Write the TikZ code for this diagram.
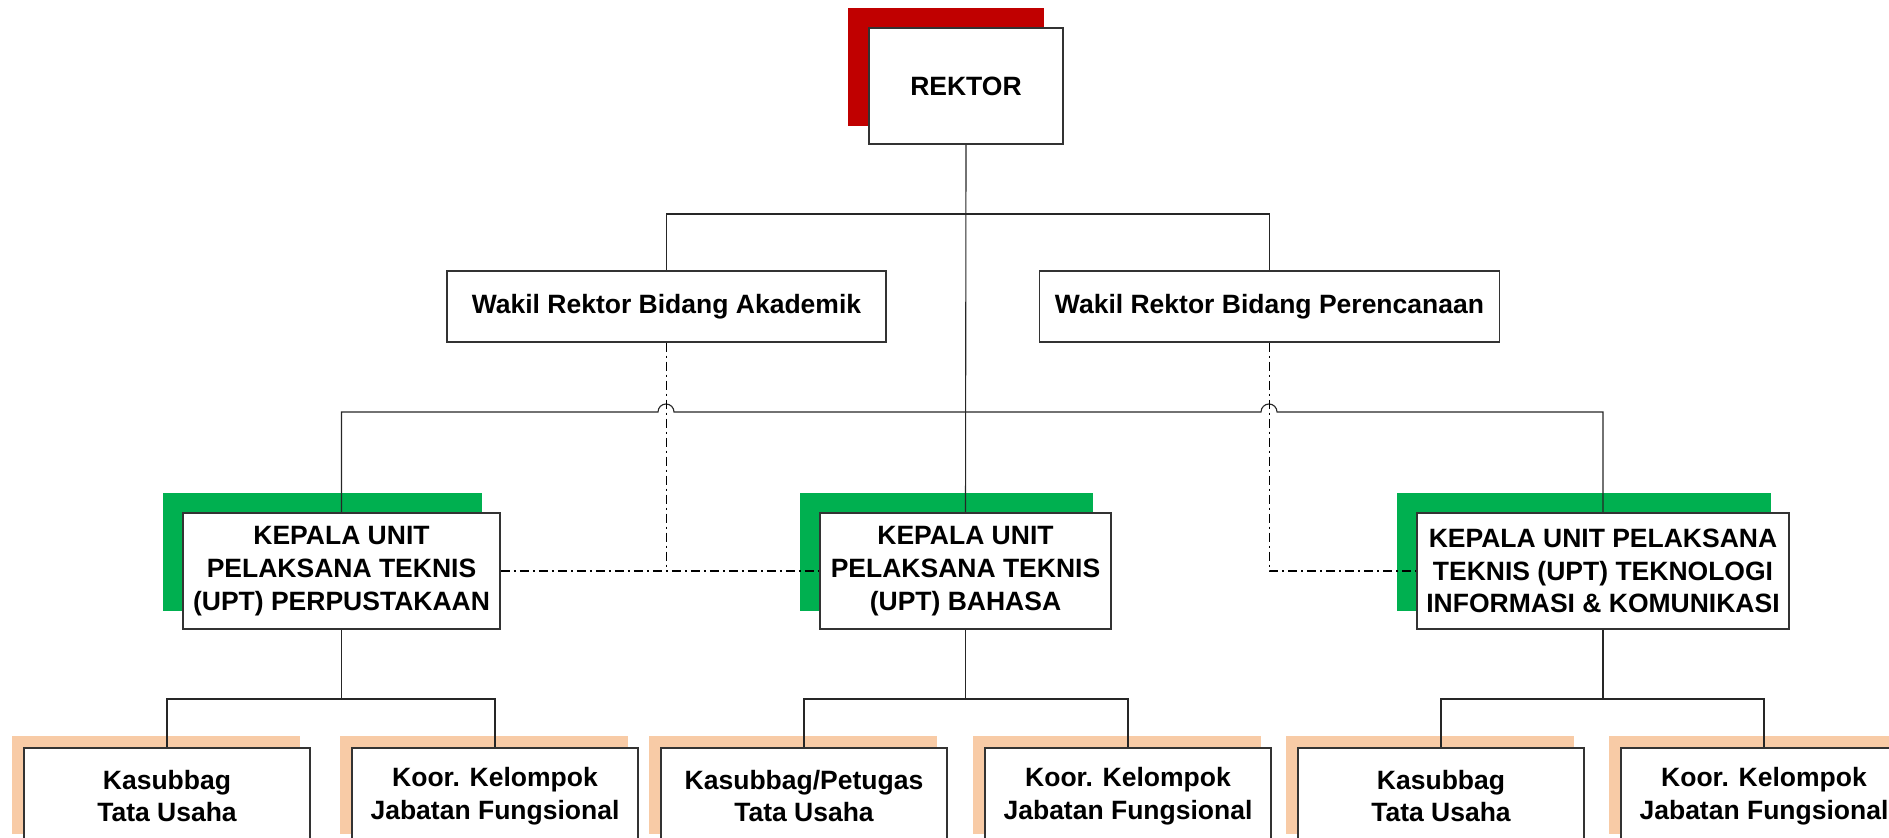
\documentclass[tikz,border=0pt]{standalone}
\usepackage{fontspec}
\setmainfont{Liberation Sans}
\usetikzlibrary{calc}

\definecolor{rektorred}{HTML}{C00000}
\definecolor{uptgreen}{HTML}{00B050}
\definecolor{subpeach}{HTML}{F8CBA6}

\pgfdeclarelayer{shade}
\pgfdeclarelayer{links}
\pgfsetlayers{shade,links,main}

\tikzset{
  orgbox/.style={draw=black!80, line width=0.75pt, fill=white, inner sep=0pt,
    align=center, font=\fontsize{13.25}{16.4}\selectfont\bfseries},
  headbox/.style={orgbox, minimum width=97pt, minimum height=58pt},
  deputybox/.style={orgbox, minimum height=35.5pt},
  unitbox/.style={orgbox, minimum height=58pt},
  subbox/.style={orgbox, minimum width=143pt, minimum height=48pt},
  link/.style={draw=black!85, line width=0.55pt},
  dotdash link/.style={draw=black, line width=0.55pt,
    dash pattern=on 4.5pt off 2pt on 1pt off 2pt},
}

% coloured block behind a box, shifted up and to the left
\newcommand\orgshade[4]{%
  \fill[#2] ($(#1.south west)+(#3,#4)$) rectangle ($(#1.north east)+(#3,#4)$);}

\begin{document}
\begin{tikzpicture}[x=0.5pt,y=-0.5pt]
\useasboundingbox (0,0) rectangle (1889,838);

% ---- boxes ----
\node[headbox] (rektor) at (966,86) {REKTOR};

\node[deputybox, minimum width=219.5pt] (wakA) at (666.5,306.5)
  {Wakil Rektor Bidang Akademik};
\node[deputybox, minimum width=230pt] (wakP) at (1269.5,306.5)
  {Wakil Rektor Bidang Perencanaan};

\node[unitbox, minimum width=158.5pt] (perpus) at (341.5,571)
  {KEPALA UNIT\\PELAKSANA TEKNIS\\(UPT) PERPUSTAKAAN};
\node[unitbox, minimum width=145.5pt] (bahasa) at (965.5,571)
  {KEPALA UNIT\\PELAKSANA TEKNIS\\(UPT) BAHASA};
\node[unitbox, minimum width=186pt] (tik) at (1603,571)
  {KEPALA UNIT PELAKSANA\\TEKNIS (UPT) TEKNOLOGI\\INFORMASI \& KOMUNIKASI};

\node[subbox] (k1) at (167,796) {Kasubbag\\Tata Usaha};
\node[subbox] (j1) at (495,796) {Koor. Kelompok\\Jabatan Fungsional};
\node[subbox] (k2) at (804,796) {Kasubbag/Petugas\\Tata Usaha};
\node[subbox] (j2) at (1128,796) {Koor. Kelompok\\Jabatan Fungsional};
\node[subbox] (k3) at (1441,796) {Kasubbag\\Tata Usaha};
\node[subbox] (j3) at (1764,796) {Koor. Kelompok\\Jabatan Fungsional};

% ---- coloured blocks ----
\begin{pgfonlayer}{shade}
  \orgshade{rektor}{rektorred}{-20}{-19}
  \orgshade{perpus}{uptgreen}{-19}{-19}
  \orgshade{bahasa}{uptgreen}{-19}{-19}
  \orgshade{tik}{uptgreen}{-19}{-19}
  \foreach \b in {k1,j1,k2,j2,k3,j3}{\orgshade{\b}{subpeach}{-11}{-11}}
\end{pgfonlayer}

% ---- connectors ----
\begin{pgfonlayer}{links}
  \coordinate (topbus) at (966,214);
  \coordinate (hopA) at (666,412);
  \coordinate (hopB) at (1269,412);
  \coordinate (bus1) at (341.5,699);
  \coordinate (bus2) at (965.5,699);
  \coordinate (bus3) at (1603,699);

  \draw[link] (rektor.south) -- (bahasa.north);
  \draw[link] (wakA.north) |- (topbus) -| (wakP.north);

  \draw[link] (perpus.north) |- ($(hopA)+(-8,0)$)
    arc[start angle=180, end angle=0, radius=4pt]
    -- ($(hopB)+(-8,0)$)
    arc[start angle=180, end angle=0, radius=4pt]
    -| (tik.north);

  \draw[dotdash link] (wakA.south) -- (wakA.south |- perpus.east);
  \draw[dotdash link] (perpus.east) -- (bahasa.west);
  \draw[dotdash link] (wakP.south) |- (tik.west);

  \draw[link] (perpus.south) -- (bus1);
  \draw[link] (k1.north) |- (bus1) -| (j1.north);
  \draw[link] (bahasa.south) -- (bus2);
  \draw[link] (k2.north) |- (bus2) -| (j2.north);
  \draw[link] (tik.south) -- (bus3);
  \draw[link] (k3.north) |- (bus3) -| (j3.north);
\end{pgfonlayer}
\end{tikzpicture}
\end{document}
